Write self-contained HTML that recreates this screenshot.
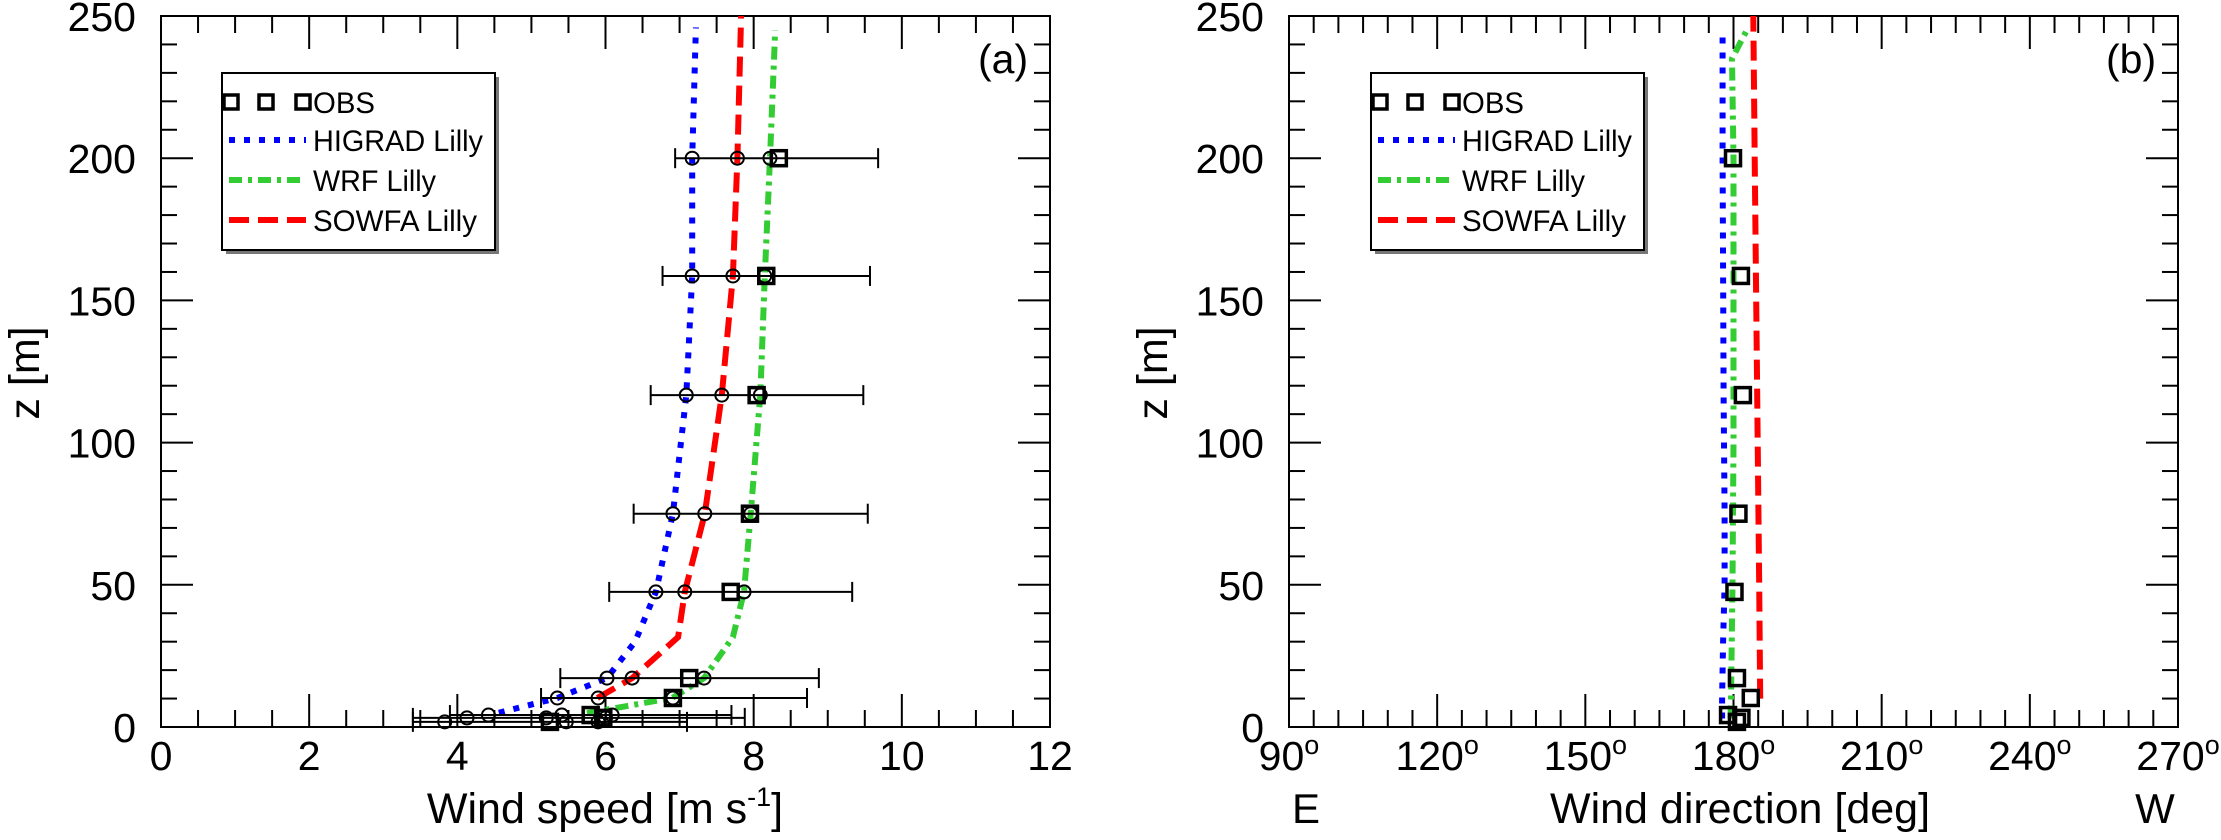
<!DOCTYPE html>
<html><head><meta charset="utf-8"><style>
html,body{margin:0;padding:0;background:#fff;}
svg{display:block;font-family:"Liberation Sans",Arial,sans-serif;}
</style></head><body>
<svg id="chart" width="2221" height="840" viewBox="0 0 2221 840" xmlns="http://www.w3.org/2000/svg"></svg>
<script>
// ---- data ----
const obsZ = [1.8, 3.2, 4.2, 10.2, 17.2, 47.5, 75, 116.7, 158.6, 200];
const obsSpeed = [5.25, 5.97, 5.8, 6.91, 7.13, 7.69, 7.95, 8.04, 8.17, 8.34];
const obsSpeedLo = [3.4, 3.4, 3.9, 5.13, 5.39, 6.05, 6.38, 6.61, 6.77, 6.94];
const obsSpeedHi = [7.1, 7.88, 7.7, 8.72, 8.88, 9.33, 9.54, 9.48, 9.57, 9.68];
const higradAtObs = [3.83, 4.13, 4.42, 5.35, 6.02, 6.68, 6.91, 7.09, 7.17, 7.17];
const sowfaAtObs = [5.47, 5.2, 5.41, 5.9, 6.36, 7.07, 7.34, 7.57, 7.72, 7.78];
const wrfAtObs = [5.9, 6.0, 6.09, 6.91, 7.33, 7.87, 7.96, 8.09, 8.15, 8.22];
const obsDir = [180.7, 181.6, 178.9, 183.5, 180.7, 180.2, 181.0, 181.9, 181.5, 179.9];

const higradZ = [5, 10.2, 17.2, 30, 47.5, 75, 116.7, 158.6, 200, 246];
const higradSpeed = [4.56, 5.35, 6.02, 6.4, 6.68, 6.91, 7.09, 7.17, 7.17, 7.22];
const sowfaZ = [10.2, 17.2, 31.6, 47.5, 75, 116.7, 158.6, 200, 250];
const sowfaSpeed = [5.89, 6.36, 6.98, 7.07, 7.34, 7.57, 7.72, 7.78, 7.83];
const wrfZ = [4.9, 10.2, 17.2, 31.6, 47.5, 75, 116.7, 158.6, 200, 245];
const wrfSpeed = [5.75, 6.9, 7.33, 7.72, 7.87, 7.96, 8.09, 8.15, 8.22, 8.29];

const higradDirZ = [3, 10, 30, 50, 75, 117, 160, 200, 245];
const higradDir = [177.7, 177.7, 177.9, 178.2, 178.2, 178.0, 177.9, 177.8, 177.8];
const wrfDirZ = [3, 10, 50, 100, 150, 200, 235, 245];
const wrfDir = [179.4, 179.5, 179.8, 180.0, 180.0, 180.0, 179.7, 182.7];
const sowfaDirZ = [10, 50, 100, 150, 200, 250];
const sowfaDir = [185.4, 185.2, 184.9, 184.6, 184.3, 184.0];

const speedTicks = [0, 2, 4, 6, 8, 10, 12];
const dirTicks = [90, 120, 150, 180, 210, 240, 270];
const zTicks = [0, 50, 100, 150, 200, 250];

// ---- layout ----
const NS = "http://www.w3.org/2000/svg";
const svg = document.getElementById("chart");
const T = 16, B = 727;
const zY = z => B - (B - T) * z / 250;
const L1 = 161, R1 = 1050, L2 = 1289, R2 = 2178;
const sX = v => L1 + (R1 - L1) * v / 12;
const dX = d => L2 + (R2 - L2) * (d - 90) / 180;

function el(tag, attrs, parent, text) {
  const e = document.createElementNS(NS, tag);
  for (const k in attrs) e.setAttribute(k, attrs[k]);
  if (text !== undefined) e.textContent = text;
  (parent || svg).appendChild(e);
  return e;
}
function line(x1, y1, x2, y2, w, g) { return el("line", {x1, y1, x2, y2, stroke: "#000", "stroke-width": w}, g); }

function frame(L, R, name) {
  const g = el("g", {});
  
  
  el("rect", {x: L, y: T, width: R - L, height: B - T, fill: "none", stroke: "#000", "stroke-width": 2}, g);
  for (let z = 0; z <= 250; z += 10) {
    const len = z % 50 === 0 ? 32 : 16, y = zY(z);
    line(L, y, L + len, y, 2, g); line(R, y, R - len, y, 2, g);
  }
  for (const z of zTicks) {
    const t = el("text", {x: L - 25, y: zY(z) + 15, "font-size": 41, "text-anchor": "end"}, g, String(z));
    
    
  }
  const yl = el("text", {x: 0, y: 0, "font-size": 43, "text-anchor": "middle", transform: `translate(${L - 122},373) rotate(-90)`}, g, "z [m]");
  
  
  return g;
}

// ---- panel (a) ----
const ga = frame(L1, R1, "panel-a");
for (let v = 0; v <= 12; v += 0.5) {
  const len = Math.abs(v % 2) < 1e-9 ? 33 : 17, x = sX(v);
  line(x, B, x, B - len, 2, ga); line(x, T, x, T + len, 2, ga);
}
for (const v of speedTicks) {
  const t = el("text", {x: sX(v), y: 770, "font-size": 41, "text-anchor": "middle"}, ga, String(v));
  
  
}
const xa = el("text", {x: 605, y: 823, "font-size": 43, "text-anchor": "middle"}, ga);


el("tspan", {}, xa, "Wind speed [m s");
el("tspan", {dy: -17, "font-size": 27}, xa, "-1");
el("tspan", {dy: 17}, xa, "]");
const la = el("text", {x: 978, y: 73, "font-size": 41}, ga, "(a)");



const styles = {
  higrad: {stroke: "#0000ff", dash: "6 9"},
  wrf: {stroke: "#33cc33", dash: "13 6 4 6"},
  sowfa: {stroke: "#ff0000", dash: "20 9"}
};
function series(xs, zs, fx, st, name, parent) {
  const pts = xs.map((v, i) => fx(v).toFixed(1) + "," + zY(zs[i]).toFixed(1)).join(" ");
  const p = el("polyline", {points: pts, fill: "none", stroke: st.stroke, "stroke-width": 6, "stroke-dasharray": st.dash}, parent);
  
  
}
series(higradSpeed, higradZ, sX, styles.higrad, "higrad-speed-line", ga);
series(sowfaSpeed, sowfaZ, sX, styles.sowfa, "sowfa-speed-line", ga);
series(wrfSpeed, wrfZ, sX, styles.wrf, "wrf-speed-line", ga);

obsZ.forEach((z, i) => {
  const y = zY(z);
  const eb = el("g", {}, ga);
  
  
  line(sX(obsSpeedLo[i]), y, sX(obsSpeedHi[i]), y, 2, eb);
  line(sX(obsSpeedLo[i]), y - 10, sX(obsSpeedLo[i]), y + 10, 2, eb);
  line(sX(obsSpeedHi[i]), y - 10, sX(obsSpeedHi[i]), y + 10, 2, eb);
  for (const arr of [higradAtObs, sowfaAtObs, wrfAtObs]) {
    const c = el("circle", {cx: sX(arr[i]), cy: y, r: 6.5, fill: "none", stroke: "#000", "stroke-width": 2}, ga);
    
    
  }
  const s = el("rect", {x: sX(obsSpeed[i]) - 7.5, y: y - 7.5, width: 15, height: 15, fill: "none", stroke: "#000", "stroke-width": 3.5}, ga);
  
  
});

// ---- panel (b) ----
const gb = frame(L2, R2, "panel-b");
for (let d = 90; d <= 270; d += 5) {
  const len = (d - 90) % 30 === 0 ? 33 : 17, x = dX(d);
  line(x, B, x, B - len, 2, gb); line(x, T, x, T + len, 2, gb);
}
for (const d of dirTicks) {
  const t = el("text", {x: dX(d), y: 770, "font-size": 41, "text-anchor": "middle"}, gb);
  
  
  el("tspan", {}, t, String(d));
  el("tspan", {dy: -16, "font-size": 27}, t, "o");
}
const e1 = el("text", {x: 1306, y: 823, "font-size": 42, "text-anchor": "middle"}, gb, "E");


const w1 = el("text", {x: 2155, y: 823, "font-size": 42, "text-anchor": "middle"}, gb, "W");


const xb = el("text", {x: 1740, y: 823, "font-size": 43, "text-anchor": "middle"}, gb, "Wind direction [deg]");


const lb = el("text", {x: 978 + 1128, y: 73, "font-size": 41}, gb, "(b)");



series(higradDir, higradDirZ, dX, styles.higrad, "higrad-direction-line", gb);
series(wrfDir, wrfDirZ, dX, styles.wrf, "wrf-direction-line", gb);
series(sowfaDir, sowfaDirZ, dX, styles.sowfa, "sowfa-direction-line", gb);
obsZ.forEach((z, i) => {
  const s = el("rect", {x: dX(obsDir[i]) - 7.5, y: zY(z) - 7.5, width: 15, height: 15, fill: "none", stroke: "#000", "stroke-width": 3.5}, gb);
  
  
});

// ---- legends ----
function legend(x0, parent) {
  const g = el("g", {}, parent);
  
  
  el("rect", {x: x0 + 4, y: 77, width: 273, height: 177, fill: "#777"}, g);
  el("rect", {x: x0, y: 73, width: 273, height: 177, fill: "#fff", stroke: "#000", "stroke-width": 2}, g);
  const rows = [["OBS", null, 102], ["HIGRAD Lilly", styles.higrad, 140], ["WRF Lilly", styles.wrf, 180], ["SOWFA Lilly", styles.sowfa, 220]];
  const widths = [62, 170, 123, 164];
  rows.forEach((r, i) => {
    const e = el("g", {}, g);
    
    
    if (r[1]) {
      el("line", {x1: x0 + 7, y1: r[2], x2: x0 + 84, y2: r[2], stroke: r[1].stroke, "stroke-width": 6, "stroke-dasharray": r[1].dash}, e);
    } else {
      for (const off of [9, 44, 81]) el("rect", {x: x0 + off - 7, y: r[2] - 7, width: 14, height: 14, fill: "none", stroke: "#000", "stroke-width": 3.5}, e);
    }
    el("text", {x: x0 + 91, y: r[2] + 11, "font-size": 30, textLength: widths[i], lengthAdjust: "spacingAndGlyphs"}, e, r[0]);
  });
}
legend(222, ga);
legend(1371, gb);
</script>
</body></html>
